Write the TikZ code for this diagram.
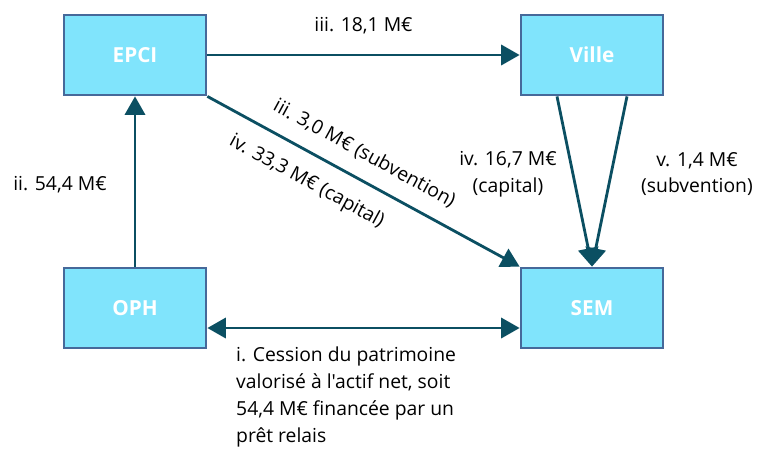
\documentclass[tikz,border=0pt]{standalone}
\usepackage{fontspec}
\setmainfont{Open Sans}[Ligatures=TeXOff]
\usepackage{tikz}
\usetikzlibrary{arrows.meta,positioning}
\definecolor{boxfill}{HTML}{80E4FC}
\definecolor{boxline}{HTML}{46699A}
\definecolor{flowcol}{HTML}{0B4F62}

\begin{document}
\begin{tikzpicture}[x=0.02cm,y=-0.02cm,
  actor/.style={draw=boxline, fill=boxfill, line width=1.6pt, minimum width=2.84cm, minimum height=1.6cm,
    text=white, font=\fontsize{11.8}{14}\selectfont\bfseries},
  flow/.style={draw=flowcol, line width=1.6pt, -{Triangle[length=10.5pt,width=11.5pt]}},
  lbl/.style={font=\fontsize{11}{15.3}\selectfont, text=black}]
\useasboundingbox (0,0) rectangle (757,454);
\node [actor] (epci) at (135,55) {EPCI};
\node [actor] (ville) at (592,55) {Ville};
\node [actor] (oph) at (135,308) {OPH};
\node [actor] (sem) at (592,308) {SEM};
\draw [flow] (epci) -- (ville) node [lbl, midway, above=8pt] {iii. 18,1 M€};
\draw [flow] (oph) -- (epci);
\node [lbl] (lii) at (60,185) {ii. 54,4 M€};
\draw [flow] (epci.south east) -- (sem.north west)
  node [lbl, sloped, pos=0.465, above=5pt] {iii. 3,0 M€ (subvention)}
  node [lbl, sloped, pos=0.36, below=6pt] {iv. 33,3 M€ (capital)};
\draw [flow] ([xshift=-0.7cm]ville.south) -- (sem.north);
\draw [flow] ([xshift=0.7cm]ville.south) -- (sem.north);
\node [lbl, align=center] (liv) at (508,174) {iv. 16,7 M€\\(capital)};
\node [lbl, align=center] (lv) at (697,174) {v. 1,4 M€\\(subvention)};
\draw [flow, {Triangle[length=10.5pt,width=11.5pt]}-{Triangle[length=10.5pt,width=11.5pt]}] (oph.east |- 0,328) -- (sem.west |- 0,328);
\node [lbl, align=left, anchor=north west] (li) at (230,341) {i. Cession du patrimoine\\valorisé à l'actif net, soit\\54,4 M€ financée par un\\prêt relais};
\end{tikzpicture}
\end{document}
